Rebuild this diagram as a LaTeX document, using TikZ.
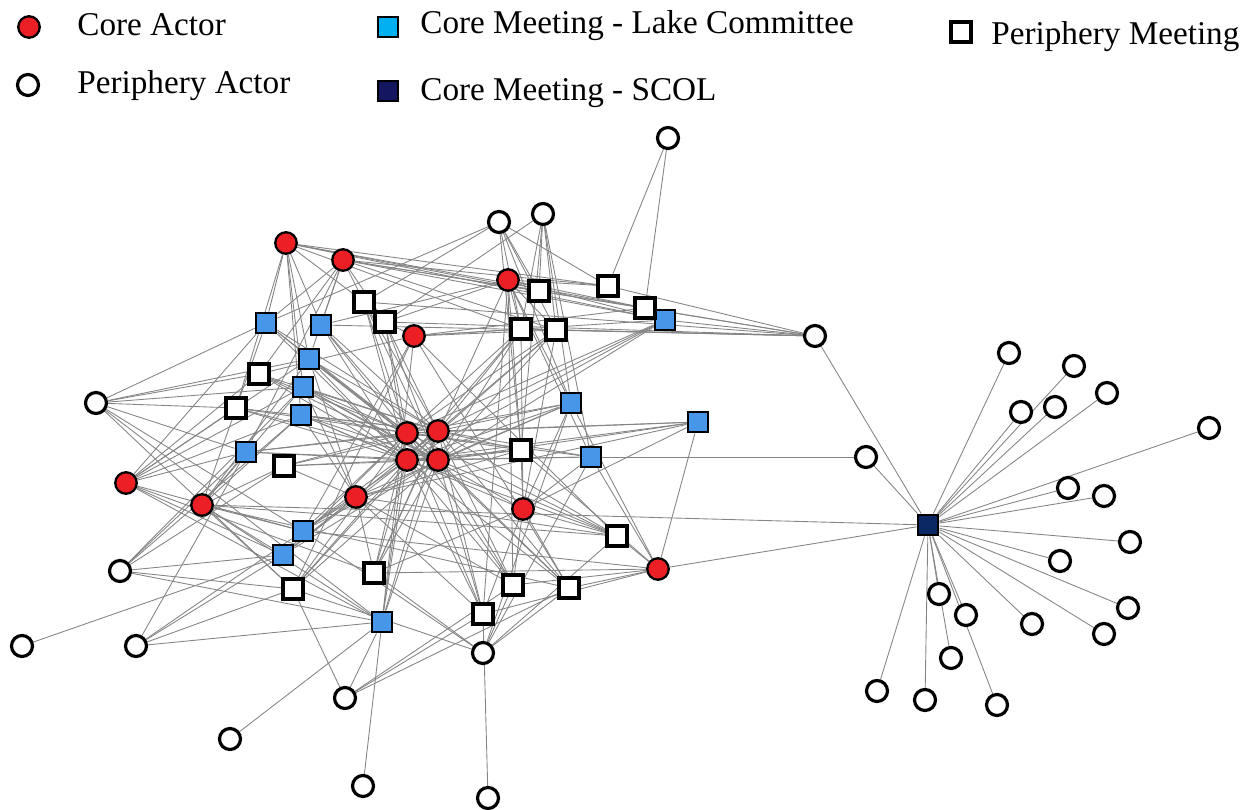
\documentclass[tikz,border=0pt]{standalone}
\usepackage{fontspec}
\setmainfont{Liberation Serif}
\usetikzlibrary{backgrounds}
\definecolor{corered}{RGB}{236,32,36}
\definecolor{lakeblue}{RGB}{72,150,232}
\definecolor{lakecyan}{RGB}{0,176,240}
\definecolor{scolnavy}{RGB}{12,40,100}
\definecolor{legnavy}{RGB}{20,22,96}
\tikzset{
  coreactor/.style={circle, draw, line width=1.3pt, fill=corered, minimum size=0.43cm, inner sep=0pt},
  periactor/.style={circle, draw, line width=1.8pt, fill=white, minimum size=0.42cm, inner sep=0pt},
  lakebox/.style={rectangle, draw, line width=1.6pt, fill=lakeblue, minimum size=0.4cm, inner sep=0pt},
  peribox/.style={rectangle, draw, line width=1.8pt, fill=white, minimum size=0.4cm, inner sep=0pt},
  scolbox/.style={rectangle, draw, line width=1.6pt, fill=scolnavy, minimum size=0.4cm, inner sep=0pt},
  tie/.style={draw=black!48, line width=0.5pt},
  legtext/.style={anchor=base west, inner sep=0pt, font=\fontsize{18.9}{22}\selectfont}
}

\begin{document}
\begin{tikzpicture}[x=0.02cm, y=-0.02cm]
  \useasboundingbox (0,0) rectangle (1252,810);

  % legend
  \node[coreactor] (legca) at (29,27) {};
  \node[legtext] (legcatext) at (77,36) {Core Actor};
  \node[periactor] (legpa) at (28,85) {};
  \node[legtext] (legpatext) at (77,94) {Periphery Actor};
  \node[lakebox, fill=lakecyan] (leglk) at (388,27) {};
  \node[legtext] (leglktext) at (420,34) {Core Meeting - Lake Committee};
  \node[scolbox, fill=legnavy] (legscol) at (388,91) {};
  \node[legtext] (legscoltext) at (420,101) {Core Meeting - SCOL};
  \node[peribox] (legpm) at (961,32) {};
  \node[legtext] (legpmtext) at (991,45) {Periphery Meeting};

  % core actors
  \node[coreactor] (ca1) at (286,243) {};
  \node[coreactor] (ca2) at (343,260) {};
  \node[coreactor] (ca3) at (508,280) {};
  \node[coreactor] (ca4) at (414,336) {};
  \node[coreactor] (ca5) at (407,433) {};
  \node[coreactor] (ca6) at (438,431) {};
  \node[coreactor] (ca7) at (407,460) {};
  \node[coreactor] (ca8) at (438,460) {};
  \node[coreactor] (ca9) at (126,483) {};
  \node[coreactor] (ca10) at (202,505) {};
  \node[coreactor] (ca11) at (356,497) {};
  \node[coreactor] (ca12) at (523,509) {};
  \node[coreactor] (ca13) at (658,569) {};

  % lake committee meetings
  \node[lakebox] (lk1) at (266,323) {};
  \node[lakebox] (lk2) at (321,325) {};
  \node[lakebox] (lk3) at (309,359) {};
  \node[lakebox] (lk4) at (303,387) {};
  \node[lakebox] (lk5) at (301,415) {};
  \node[lakebox] (lk6) at (246,452) {};
  \node[lakebox] (lk7) at (571,403) {};
  \node[lakebox] (lk8) at (698,422) {};
  \node[lakebox] (lk9) at (591,457) {};
  \node[lakebox] (lk10) at (665,320) {};
  \node[lakebox] (lk11) at (303,531) {};
  \node[lakebox] (lk12) at (283,555) {};
  \node[lakebox] (lk13) at (382,622) {};

  % periphery meetings
  \node[peribox] (pm1) at (364,302) {};
  \node[peribox] (pm2) at (385,322) {};
  \node[peribox] (pm3) at (539,291) {};
  \node[peribox] (pm4) at (608,286) {};
  \node[peribox] (pm5) at (645,308) {};
  \node[peribox] (pm6) at (521,329) {};
  \node[peribox] (pm7) at (556,330) {};
  \node[peribox] (pm8) at (259,374) {};
  \node[peribox] (pm9) at (236,408) {};
  \node[peribox] (pm10) at (284,466) {};
  \node[peribox] (pm11) at (521,450) {};
  \node[peribox] (pm12) at (617,536) {};
  \node[peribox] (pm13) at (374,573) {};
  \node[peribox] (pm14) at (293,589) {};
  \node[peribox] (pm15) at (513,585) {};
  \node[peribox] (pm16) at (569,588) {};
  \node[peribox] (pm17) at (483,614) {};

  % periphery actors
  \node[periactor] (pa1) at (668,138) {};
  \node[periactor] (pa2) at (499,222) {};
  \node[periactor] (pa3) at (543,214) {};
  \node[periactor] (pa4) at (815,336) {};
  \node[periactor] (pa5) at (96,403) {};
  \node[periactor] (pa6) at (866,457) {};
  \node[periactor] (pa7) at (120,571) {};
  \node[periactor] (pa8) at (22,646) {};
  \node[periactor] (pa9) at (136,646) {};
  \node[periactor] (pa10) at (483,653) {};
  \node[periactor] (pa11) at (345,698) {};
  \node[periactor] (pa12) at (230,739) {};
  \node[periactor] (pa13) at (363,786) {};
  \node[periactor] (pa14) at (488,798) {};

  % scol meeting and its actors
  \node[scolbox] (scol) at (928,525) {};
  \foreach \n/\x/\y in {1/1009/353, 2/1074/366, 3/1107/393, 4/1021/412, 5/1055/407,
                        6/1209/428, 7/1068/488, 8/1104/496, 9/1130/542, 10/1060/561,
                        11/1128/608, 12/1104/634, 13/1032/624, 14/939/594, 15/966/615,
                        16/951/658, 17/877/691, 18/925/700, 19/997/705}
    \node[periactor] (sp\n) at (\x,\y) {};

  % ties
  \begin{scope}[on background layer]
    \foreach \a/\ms in {
        ca1/{lk1,lk2,lk3,lk4,lk5,pm1,pm3,pm4,pm5,pm9,pm6,lk10},
        ca2/{lk1,lk2,lk3,pm1,pm2,pm3,pm4,pm5,lk10,lk6,pm8,pm7},
        ca3/{pm3,pm4,pm5,lk10,pm6,pm7,lk7,lk9,pm11,pm2,lk2,pm15,pm17,pm13},
        ca4/{pm2,pm6,pm7,lk10,pm12,pm16,lk13,pm14,lk11,pm8,pm5},
        ca9/{lk1,lk3,lk4,lk5,lk6,pm9,pm8,lk11,lk12,pm13,lk13},
        ca10/{lk1,lk3,lk4,lk5,lk6,pm10,lk11,lk12,pm14,pm16,lk13,scol,pm12},
        ca11/{lk3,lk4,lk5,pm10,lk11,lk12,pm13,pm15,pm17,pm11,lk7,lk8,pm12},
        ca12/{pm6,pm7,lk7,lk9,pm11,pm12,pm13,pm15,pm16,pm17,lk8,lk5,lk4},
        ca13/{lk7,lk9,lk8,pm12,pm15,pm16,pm17,pm13,scol,pm11,lk11},
        pa1/{pm4,pm5},
        pa2/{pm1,lk1,pm3,pm6,pm7,pm4,lk7,pm11},
        pa3/{pm2,pm3,pm6,pm7,lk9,lk7,pm11},
        pa4/{pm1,pm2,pm3,pm4,pm5,lk10,pm6,pm7,lk2,scol},
        pa5/{lk1,lk3,lk4,pm9,lk6,lk11,pm14,lk13,pm8},
        pa6/{lk9,scol},
        pa7/{lk6,lk4,pm10,lk12,pm14,lk13,lk5},
        pa8/{lk12},
        pa9/{lk6,pm14,lk13,lk12,lk11},
        pa10/{pm17,pm15,pm16,pm13,pm14,lk11,pm12,lk9,lk7},
        pa11/{pm14,lk13,pm17,pm15,pm16},
        pa12/{lk13}, pa13/{lk13}, pa14/{pm17}}
      \foreach \m in \ms
        \draw[tie] (\a) -- (\m);
    % the four central actors attend nearly everything
    \foreach \a in {ca5,ca6,ca7,ca8}
      \foreach \m in {lk1,lk2,lk3,lk4,lk5,lk6,lk7,lk8,lk9,lk10,lk11,lk12,lk13,
                      pm1,pm2,pm6,pm7,pm8,pm9,pm10,pm11,pm12,pm13,pm14,pm15,pm16,pm17}
        \draw[tie] (\a) -- (\m);
    \foreach \n in {1,...,19}
      \draw[tie] (scol) -- (sp\n);
  \end{scope}
\end{tikzpicture}
\end{document}
